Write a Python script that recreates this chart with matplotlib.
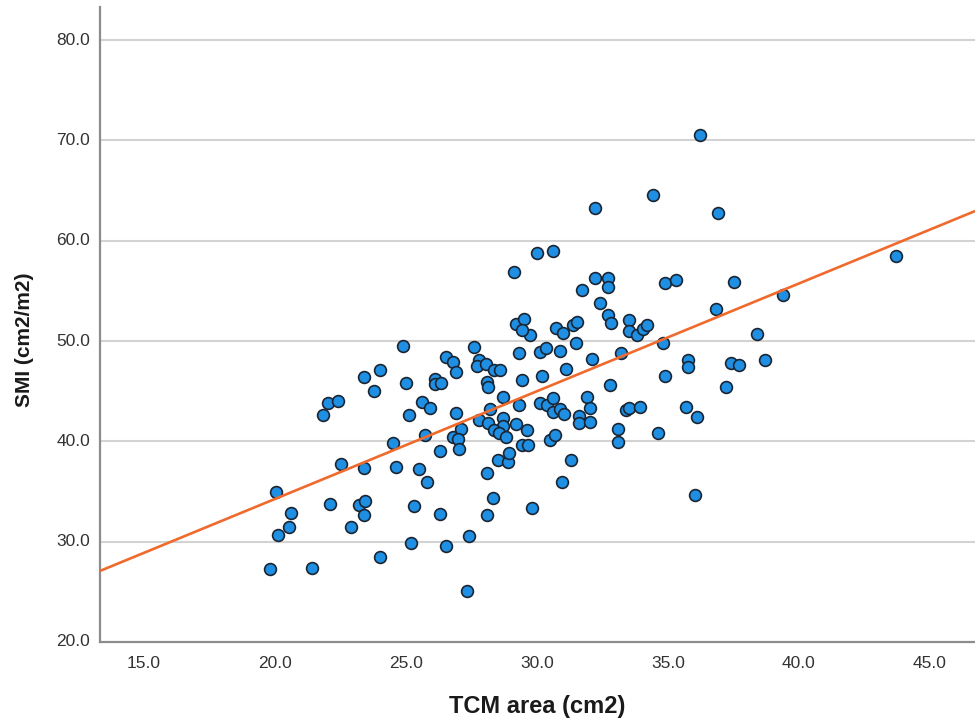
import numpy as np
import matplotlib.pyplot as plt

# values (TCM area vs SMI)
tcm_area = [
    24.90, 23.41, 24.02, 25.01, 23.79, 22.01, 22.40, 21.82, 25.60, 25.90,
    25.11, 25.73, 24.50, 22.52, 23.41, 24.62, 25.51, 25.82, 20.03, 22.11,
    23.22, 23.42, 23.41, 25.32, 20.61, 20.52, 20.13, 22.91, 25.21, 24.02,
    19.82, 21.41, 27.60, 29.31, 30.11, 30.33, 30.88, 26.53, 26.79, 27.79,
    27.72, 28.05, 28.37, 28.59, 26.91, 29.42, 30.21, 26.11, 26.10, 26.32,
    28.10, 28.12, 28.71, 26.91, 28.21, 27.80, 28.14, 28.71, 28.71, 28.35,
    28.55, 28.82, 29.20, 29.61, 29.32, 30.11, 30.40, 30.61, 30.60, 30.89,
    31.02, 26.78, 27.10, 27.00, 27.01, 26.31, 28.10, 28.50, 28.90, 28.93,
    29.42, 29.65, 30.48, 30.70, 30.95, 26.31, 28.31, 28.10, 29.82, 26.52,
    27.40, 27.32, 32.40, 32.70, 32.81, 33.51, 33.51, 33.82, 34.04, 34.21,
    30.71, 31.01, 31.38, 31.52, 29.73, 31.50, 32.09, 33.20, 34.81, 35.76,
    35.76, 31.10, 32.80, 34.90, 31.61, 31.61, 31.92, 32.02, 32.02, 33.41,
    33.51, 33.92, 33.10, 33.10, 34.62, 35.70, 31.30, 36.02, 36.82, 38.41,
    37.39, 37.71, 38.71, 37.23, 36.12, 30.01, 30.61, 29.12, 32.21, 32.71,
    32.72, 31.71, 34.90, 35.31, 29.20, 29.52, 29.42, 36.21, 34.42, 32.21,
    36.91, 43.70, 37.52, 39.40,
]
smi = [
    49.55, 46.40, 47.09, 45.84, 44.98, 43.85, 43.98, 42.62, 43.95, 43.28,
    42.59, 40.65, 39.83, 37.78, 37.38, 37.48, 37.21, 35.95, 34.93, 33.80,
    33.66, 34.06, 32.67, 33.60, 32.87, 31.47, 30.65, 31.47, 29.90, 28.46,
    27.26, 27.33, 49.42, 48.76, 48.93, 49.32, 48.99, 48.43, 47.96, 48.09,
    47.56, 47.76, 47.16, 47.09, 46.90, 46.10, 46.47, 46.17, 45.74, 45.77,
    45.90, 45.44, 44.41, 42.86, 43.25, 42.12, 41.79, 42.32, 41.52, 41.09,
    40.87, 40.47, 41.76, 41.12, 43.65, 43.78, 43.66, 44.30, 42.89, 43.24,
    42.69, 40.47, 41.19, 40.20, 39.27, 39.03, 36.89, 38.14, 37.94, 38.88,
    39.63, 39.63, 40.18, 40.63, 35.92, 32.71, 34.33, 32.67, 33.35, 29.52,
    30.52, 25.10, 53.83, 52.61, 51.76, 52.11, 51.02, 50.57, 51.19, 51.61,
    51.32, 50.80, 51.61, 51.87, 50.60, 49.77, 48.23, 48.76, 49.80, 48.16,
    47.41, 47.19, 45.60, 46.55, 42.56, 41.79, 44.41, 43.28, 41.96, 43.11,
    43.31, 43.41, 41.19, 39.93, 40.83, 43.45, 38.14, 34.70, 53.23, 50.75,
    47.83, 47.63, 48.09, 45.44, 42.46, 58.78, 59.00, 56.89, 56.29, 56.29,
    55.42, 55.12, 55.79, 56.05, 51.74, 52.21, 51.11, 70.55, 64.58, 63.28,
    62.76, 58.44, 55.85, 54.63,
]

# fit line: smi = a + b * tcm
fit_intercept = 12.78
fit_slope = 1.074

x_ticks = [15.0, 20.0, 25.0, 30.0, 35.0, 40.0, 45.0]
y_ticks = [20.0, 30.0, 40.0, 50.0, 60.0, 70.0, 80.0]

X_LIM = (13.32, 46.72)
Y_LIM = (20.0, 83.3)

FONT = ["Liberation Sans Narrow", "Liberation Sans", "DejaVu Sans"]


def main():
    fig = plt.figure(figsize=(9.75, 7.22), dpi=100)
    ax = fig.add_axes([100 / 975, 1 - 642 / 722, 875 / 975, 635 / 722])

    ax.set_xlim(*X_LIM)
    ax.set_ylim(*Y_LIM)

    for yv in y_ticks[1:]:
        ax.axhline(yv, color="#d3d3d3", lw=1.5, zorder=0)

    ax.scatter(tcm_area, smi, s=72, color="#1f8fe3", edgecolors="#1a2533",
               linewidths=1.2, zorder=2)

    xs = np.array(X_LIM)
    ax.plot(xs, fit_intercept + fit_slope * xs, color="#ef6a2c", lw=1.9,
            zorder=3, solid_capstyle="butt")

    for side in ["top", "right"]:
        ax.spines[side].set_visible(False)
    for side in ["left", "bottom"]:
        ax.spines[side].set_color("#8c8c8c")
        ax.spines[side].set_linewidth(1.6)

    ax.set_xticks(x_ticks)
    ax.set_xticklabels([f"{v:.1f}" for v in x_ticks], fontfamily=FONT,
                       fontsize=12.5, color="#333333")
    ax.set_yticks(y_ticks)
    ax.set_yticklabels([f"{v:.1f}" for v in y_ticks], fontfamily=FONT,
                       fontsize=12.5, color="#333333", va="top")
    ax.tick_params(axis="both", length=0)
    ax.tick_params(axis="x", pad=10)
    ax.tick_params(axis="y", pad=7)
    for lbl in ax.get_yticklabels():
        lbl.set_verticalalignment("center")

    fig.text(537 / 975, 1 - 707 / 722, "TCM area (cm2)", ha="center", va="center",
             fontsize=17, fontweight="bold", fontfamily=FONT, color="#1a1a1a")
    fig.text(25 / 975, 1 - 340 / 722, "SMI (cm2/m2)", ha="center", va="center",
             rotation=90, fontsize=15, fontweight="bold", fontfamily=FONT,
             color="#1a1a1a")

    fig.savefig("out.png", dpi=100)


if __name__ == "__main__":
    main()
